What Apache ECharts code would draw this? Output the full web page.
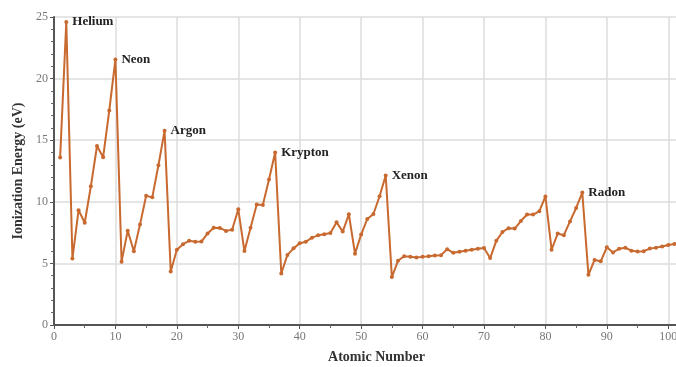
<!DOCTYPE html>
<html>
<head>
<meta charset="utf-8">
<script src="https://cdn.jsdelivr.net/npm/echarts@6/dist/echarts.min.js"></script>
<style>html,body{margin:0;padding:0;background:#fff;}#c{width:676px;height:367px;}</style>
</head>
<body>
<div id="c"></div>
<script>
const atomicNumbers = [1,2,3,4,5,6,7,8,9,10,11,12,13,14,15,16,17,18,19,20,21,22,23,24,25,26,27,28,29,30,31,32,33,34,35,36,37,38,39,40,41,42,43,44,45,46,47,48,49,50,51,52,53,54,55,56,57,58,59,60,61,62,63,64,65,66,67,68,69,70,71,72,73,74,75,76,77,78,79,80,81,82,83,84,85,86,87,88,89,90,91,92,93,94,95,96,97,98,99,100,101,102];
const ionizationEnergy = [13.6,24.59,5.39,9.32,8.30,11.26,14.53,13.62,17.42,21.56,5.14,7.65,5.99,8.15,10.49,10.36,12.97,15.76,4.34,6.11,6.56,6.83,6.75,6.77,7.43,7.90,7.88,7.64,7.73,9.39,6.00,7.90,9.79,9.75,11.81,14.00,4.18,5.69,6.22,6.63,6.76,7.09,7.28,7.36,7.46,8.34,7.58,8.99,5.79,7.34,8.61,9.01,10.45,12.13,3.89,5.21,5.58,5.54,5.47,5.53,5.58,5.64,5.67,6.15,5.86,5.94,6.02,6.11,6.18,6.25,5.43,6.83,7.55,7.86,7.83,8.44,8.97,8.96,9.23,10.44,6.11,7.42,7.29,8.41,9.50,10.75,4.07,5.28,5.17,6.31,5.89,6.19,6.27,6.03,5.97,5.99,6.20,6.28,6.37,6.50,6.58,6.65];
const nobleGasNumbers = [2,10,18,36,54,86];
const nobleGasNames = ["Helium","Neon","Argon","Krypton","Xenon","Radon"];
const xTicks = [0,10,20,30,40,50,60,70,80,90,100];
const yTicks = [0,5,10,15,20,25];

const serif = '"Liberation Serif", "DejaVu Serif", serif';
const data = atomicNumbers.map((n, i) => {
  const k = nobleGasNumbers.indexOf(n);
  const item = { value: [n, ionizationEnergy[i]] };
  if (k >= 0) {
    item.label = { show: true, position: 'right', distance: 4, formatter: nobleGasNames[k],
      fontFamily: serif, fontSize: 13, color: '#222', fontWeight: 'bold' };
  }
  return item;
});

const chart = echarts.init(document.getElementById('c'), null, { renderer: 'canvas' });
chart.setOption({
  animation: false,
  backgroundColor: '#fff',
  grid: { left: 54, top: 17, bottom: 42, right: -23, containLabel: false, outerBoundsMode: 'none' },
  xAxis: {
    type: 'value', min: 0, max: 105, interval: 10,
    name: 'Atomic Number', nameLocation: 'middle', nameGap: 25,
    nameTextStyle: { fontFamily: serif, fontSize: 14, fontWeight: 'bold', color: '#333' },
    axisLine: { lineStyle: { color: '#555', width: 2 } },
    axisTick: { show: true, length: 4, lineStyle: { color: '#555' } },
    minorTick: { show: true, splitNumber: 2, length: 3, lineStyle: { color: '#666' } },
    axisLabel: { fontFamily: serif, fontSize: 12, color: '#777', margin: 6, showMaxLabel: false,
      formatter: v => xTicks.includes(v) ? String(v) : '' },
    splitLine: { show: true, lineStyle: { color: '#ddd', width: 1.5 } }
  },
  yAxis: {
    type: 'value', min: 0, max: 25, interval: 5,
    name: 'Ionization Energy (eV)', nameLocation: 'middle', nameGap: 29,
    nameTextStyle: { fontFamily: serif, fontSize: 14, fontWeight: 'bold', color: '#333' },
    axisLine: { show: true, lineStyle: { color: '#555', width: 2 } },
    axisTick: { show: true, length: 4, lineStyle: { color: '#555' } },
    minorTick: { show: true, splitNumber: 5, length: 3, lineStyle: { color: '#666' } },
    axisLabel: { fontFamily: serif, fontSize: 12, color: '#777', margin: 6,
      formatter: v => yTicks.includes(v) ? String(v) : '' },
    splitLine: { show: true, lineStyle: { color: '#ddd', width: 1.5 } }
  },
  series: [{
    type: 'line', data: data,
    symbol: 'circle', symbolSize: 4, showSymbol: true,
    lineStyle: { color: '#c8692f', width: 2 },
    itemStyle: { color: '#c8692f' },
    clip: true
  }]
});
</script>
</body>
</html>
